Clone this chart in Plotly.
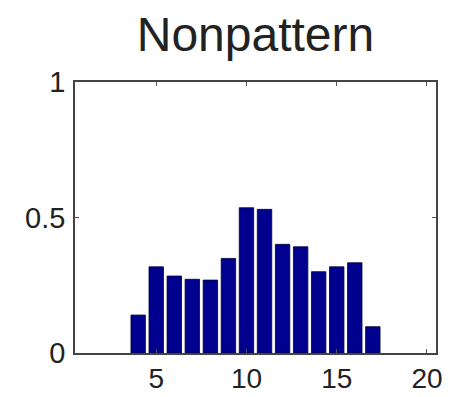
import plotly.graph_objects as go

categories = [4, 5, 6, 7, 8, 9, 10, 11, 12, 13, 14, 15, 16, 17]
values = [0.14, 0.318, 0.284, 0.272, 0.269, 0.349, 0.536, 0.530, 0.401, 0.392, 0.300, 0.318, 0.333, 0.097]
x_ticks = [5, 10, 15, 20]
y_ticks = [0, 0.5, 1]
y_tick_labels = ["0", "0.5", "1"]

W, H = 452, 397
L, R, T, B = 75, 16, 82, 44

fig = go.Figure(go.Bar(
    x=categories, y=values, width=0.8,
    marker=dict(color="#00008F", line=dict(color="#000030", width=0.8)),
))

font_family = "Liberation Sans, Arial, Helvetica, sans-serif"
fig.update_layout(
    width=W, height=H,
    margin=dict(l=L, r=R, t=T, b=B, autoexpand=False),
    paper_bgcolor="white", plot_bgcolor="white",
    showlegend=False,
    title=dict(text="Nonpattern", x=(L + (W - R)) / 2 / W, xanchor="center",
               y=1 - 34 / H, yanchor="middle", yref="container",
               font=dict(family=font_family, size=48, color="#222222")),
    font=dict(family=font_family, color="#222222"),
)
fig.update_xaxes(
    range=[0.5, 20.5], tickvals=x_ticks, ticks="inside", ticklen=4, tickcolor="#555555",
    showline=True, linecolor="#444444", linewidth=1.5, mirror="ticks",
    showgrid=False, zeroline=False, tickfont=dict(size=28, color="#222222"),
    ticklabelstandoff=0, automargin=False,
)
fig.update_yaxes(
    range=[0, 1], tickvals=y_ticks, ticktext=y_tick_labels, ticks="inside", ticklen=4,
    tickcolor="#555555", showline=True, linecolor="#444444", linewidth=1.5, mirror="ticks",
    showgrid=False, zeroline=False, tickfont=dict(size=29, color="#222222"),
    ticklabelstandoff=2, automargin=False,
)
fig.write_html("out.html")
